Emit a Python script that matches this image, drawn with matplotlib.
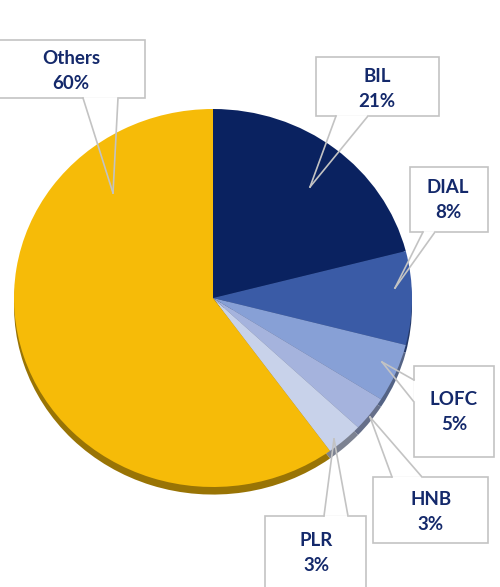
import matplotlib
matplotlib.use("Agg")
import matplotlib.pyplot as plt
from matplotlib.patches import Rectangle
from matplotlib.colors import to_rgb

# ---- data ----
categories = ["BIL", "DIAL", "LOFC", "HNB", "PLR", "Others"]
shares = [21, 8, 5, 3, 3, 60]
colors = ["#0a2260", "#3a5ba6", "#87a0d6", "#a5b3dd", "#c8d2ea", "#f6bb08"]

W, H = 500, 587
fig = plt.figure(figsize=(W / 100, H / 100), dpi=100)

# pie geometry (pixels)
cx, cy, rx, ry = 213, 298, 199, 189
depth = 0.04  # rim depth as fraction of ry
ax_pie = fig.add_axes([(cx - rx) / W, (H - (cy + ry) - depth * ry) / H,
                       2 * rx / W, (2 + depth) * ry / H])

dark = [tuple(c * 0.62 for c in to_rgb(col)) for col in colors]
# rim / depth
ax_pie.pie(shares, colors=dark, startangle=90, counterclock=False, radius=1.0,
           center=(0, -depth), frame=True, wedgeprops=dict(linewidth=0))
ax_pie.pie(shares, colors=colors, startangle=90, counterclock=False, radius=1.0,
           center=(0, 0), frame=True, wedgeprops=dict(linewidth=0))
ax_pie.set_aspect("auto")
ax_pie.set_xlim(-1, 1)
ax_pie.set_ylim(-1 - depth, 1)
ax_pie.axis("off")

# overlay in pixel coordinates
ax = fig.add_axes([0, 0, 1, 1])
ax.set_xlim(0, W)
ax.set_ylim(H, 0)
ax.axis("off")

edge = "#c3c3c3"
txt = "#14296b"

# callouts: box (x0, y0, x1, y1), pointer base points, tip, text center
callouts = {
    "Others": dict(box=(-3, 40, 145, 98), base=[(83, 98), (118, 98)], tip=(113, 193), tc=(71, 71)),
    "BIL": dict(box=(316, 57, 439, 116), base=[(336, 116), (368, 116)], tip=(310, 187), tc=(377, 89)),
    "DIAL": dict(box=(410, 167, 488, 232), base=[(423, 232), (435, 232)], tip=(395, 288), tc=(448, 200)),
    "LOFC": dict(box=(414, 366, 494, 457), base=[(414, 380), (414, 402)], tip=(382, 362), tc=(454, 412)),
    "HNB": dict(box=(373, 477, 488, 543), base=[(392, 477), (422, 477)], tip=(370, 417), tc=(431, 512)),
    "PLR": dict(box=(265, 516, 366, 600), base=[(324, 516), (348, 516)], tip=(334, 439), tc=(316, 553)),
}

for name, val in zip(categories, shares):
    c = callouts[name]
    x0, y0, x1, y1 = c["box"]
    ax.add_patch(Rectangle((x0, y0), x1 - x0, y1 - y0, facecolor="white",
                           edgecolor=edge, linewidth=1.2, zorder=3))
    # cover box edge between pointer base points
    (bx0, by0), (bx1, by1) = c["base"]
    ax.plot([bx0, bx1], [by0, by1], color="white", linewidth=2.0, zorder=4,
            solid_capstyle="butt")
    for bx, by in c["base"]:
        ax.plot([bx, c["tip"][0]], [by, c["tip"][1]], color=edge, linewidth=1.2, zorder=5)
    ax.text(c["tc"][0], c["tc"][1], f"{name}\n{val}%", ha="center", va="center",
            fontsize=13.5, fontweight="bold", color=txt, family=["Lato", "DejaVu Sans"],
            linespacing=1.55, zorder=6)

fig.savefig("out.png", dpi=100)
